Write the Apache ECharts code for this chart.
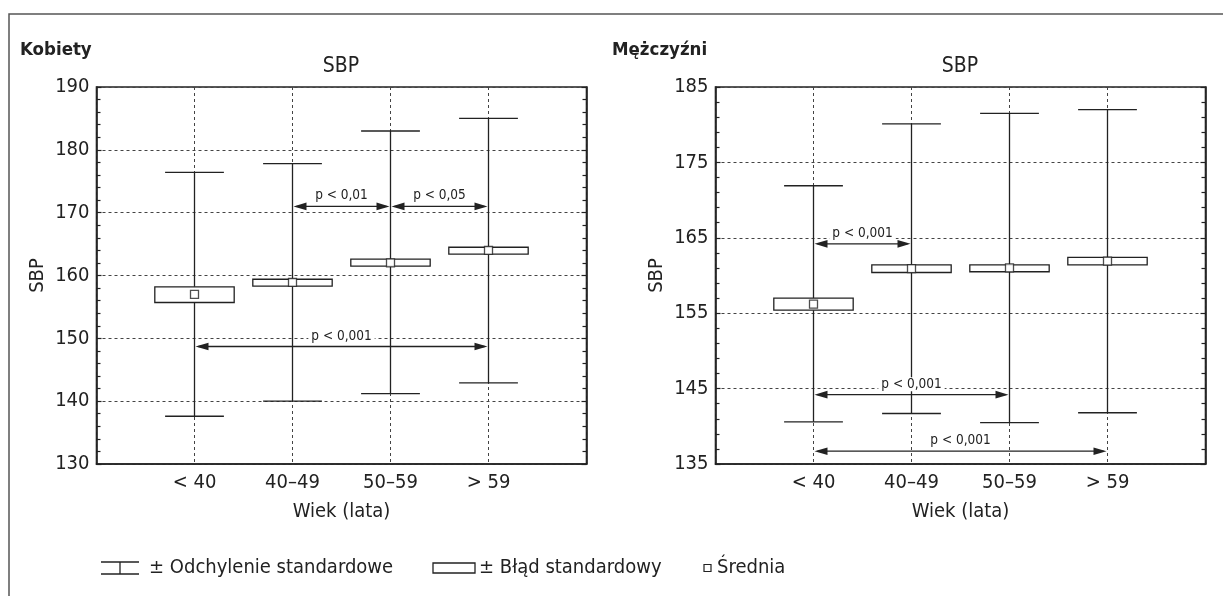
<!DOCTYPE html>
<html>
<head>
<meta charset="utf-8">
<script src="https://cdn.jsdelivr.net/npm/echarts@6/dist/echarts.min.js"></script>
<style>
    html, body { margin: 0; padding: 0; background: #fff; }
    #chart { width: 1223px; height: 596px; }
</style>
</head>
<body>
<div id="chart"></div>
<script>
// age groups, plotted at x = 1..4
var categories = ['< 40', '40–49', '50–59', '> 59'];

// Kobiety
var womenMean   = [157.0, 158.9, 162.0, 164.0];
var womenSeLow  = [155.7, 158.3, 161.5, 163.4];
var womenSeHigh = [158.2, 159.4, 162.6, 164.5];
var womenSdLow  = [137.6, 140.0, 141.2, 142.9];
var womenSdHigh = [176.4, 177.8, 183.0, 185.0];
// [from group, to group, SBP level, label]
var womenTests = [
    [1, 2, 171.0, 'p < 0,01'],
    [2, 3, 171.0, 'p < 0,05'],
    [0, 3, 148.7, 'p < 0,001']
];

// Mężczyźni
var menMean   = [156.2, 160.9, 161.0, 161.9];
var menSeLow  = [155.4, 160.4, 160.5, 161.4];
var menSeHigh = [157.0, 161.4, 161.4, 162.4];
var menSdLow  = [140.6, 141.7, 140.5, 141.8];
var menSdHigh = [171.9, 180.1, 181.5, 182.0];
var menTests = [
    [0, 1, 164.2, 'p < 0,001'],
    [0, 2, 144.2, 'p < 0,001'],
    [0, 3, 136.7, 'p < 0,001']
];

var FONT = '"Liberation Sans Narrow", "DejaVu Sans Condensed", "Noto Sans", sans-serif';
var INK = '#222';

function zip3(a, b) {
    return categories.map(function (c, i) { return [i + 1, a[i], b[i]]; });
}

function renderSd(params, api) {
    var x = api.value(0);
    var top = api.coord([x, api.value(2)]);
    var bot = api.coord([x, api.value(1)]);
    var half = api.size([0.3, 0])[0];
    var style = { stroke: INK, lineWidth: 1.3 };
    return {
        type: 'group',
        children: [
            { type: 'line', shape: { x1: top[0], y1: top[1], x2: bot[0], y2: bot[1] }, style: style },
            { type: 'line', shape: { x1: top[0] - half, y1: top[1], x2: top[0] + half, y2: top[1] }, style: style },
            { type: 'line', shape: { x1: bot[0] - half, y1: bot[1], x2: bot[0] + half, y2: bot[1] }, style: style }
        ]
    };
}

function renderSe(params, api) {
    var x = api.value(0);
    var p1 = api.coord([x, api.value(2)]);
    var p2 = api.coord([x, api.value(1)]);
    var half = api.size([0.405, 0])[0];
    return {
        type: 'rect',
        shape: { x: p1[0] - half, y: p1[1], width: half * 2, height: p2[1] - p1[1] },
        style: { fill: '#fff', stroke: INK, lineWidth: 1.3 }
    };
}

function testRenderer(tests) {
    return function (params, api) {
        var a = api.coord([api.value(0), api.value(2)]);
        var b = api.coord([api.value(1), api.value(2)]);
        var y = a[1], hl = 13, hw = 3.8;
        return {
            type: 'group',
            children: [
                { type: 'line', shape: { x1: a[0] + 4, y1: y, x2: b[0] - 4, y2: y }, style: { stroke: INK, lineWidth: 1.3 } },
                { type: 'polygon', shape: { points: [[a[0] + 1, y], [a[0] + 1 + hl, y - hw], [a[0] + 1 + hl, y + hw]] }, style: { fill: INK } },
                { type: 'polygon', shape: { points: [[b[0] - 1, y], [b[0] - 1 - hl, y - hw], [b[0] - 1 - hl, y + hw]] }, style: { fill: INK } },
                {
                    type: 'text',
                    x: (a[0] + b[0]) / 2,
                    y: y - 10.5,
                    style: {
                        text: tests[params.dataIndex][3],
                        fill: INK,
                        fontSize: 13.5,
                        fontFamily: FONT,
                        align: 'center',
                        verticalAlign: 'middle',
                        backgroundColor: '#fff',
                        padding: [0, 3]
                    }
                }
            ]
        };
    };
}

function xAxisFor(gi) {
    return {
        gridIndex: gi,
        type: 'value',
        min: 0,
        max: 5,
        interval: 1,
        axisLine: { show: true, lineStyle: { color: INK, width: 1.6 } },
        axisTick: { show: false },
        axisLabel: {
            formatter: function (v) { return categories[v - 1] || ''; },
            fontSize: 20,
            fontFamily: FONT,
            color: INK,
            margin: 9
        },
        splitLine: { show: true, lineStyle: { color: '#444', type: [3, 3], width: 1 } },
        name: 'Wiek (lata)',
        nameLocation: 'middle',
        nameGap: 38,
        nameTextStyle: { fontSize: 20, fontFamily: FONT, color: INK }
    };
}

function yAxesFor(gi, min, max) {
    var ticks = {
        axisLine: { show: true, lineStyle: { color: INK, width: 1.6 } },
        axisTick: { show: true, inside: true, length: 5, lineStyle: { color: INK, width: 1.2 } },
        minorTick: { show: true, splitNumber: 5, length: 4, lineStyle: { color: INK, width: 1.2 } }
    };
    return [
        Object.assign({
            gridIndex: gi, type: 'value', min: min, max: max, interval: 10, position: 'left',
            axisLabel: { fontSize: 20, fontFamily: FONT, color: INK, margin: 7 },
            splitLine: { show: true, lineStyle: { color: '#444', type: [3, 3], width: 1 } },
            name: 'SBP',
            nameLocation: 'middle',
            nameGap: 49,
            nameTextStyle: { fontSize: 20, fontFamily: FONT, color: INK }
        }, ticks),
        Object.assign({
            gridIndex: gi, type: 'value', min: min, max: max, interval: 10, position: 'right',
            axisLabel: { show: false },
            splitLine: { show: false }
        }, ticks)
    ];
}

function seriesFor(gi, mean, seLow, seHigh, sdLow, sdHigh, tests) {
    var xi = gi, yi = gi * 2;
    return [
        { type: 'custom', xAxisIndex: xi, yAxisIndex: yi, z: 2, renderItem: renderSd,
          encode: { x: 0, y: [1, 2] }, data: zip3(sdLow, sdHigh) },
        { type: 'custom', xAxisIndex: xi, yAxisIndex: yi, z: 3, renderItem: renderSe,
          encode: { x: 0, y: [1, 2] }, data: zip3(seLow, seHigh) },
        { type: 'scatter', xAxisIndex: xi, yAxisIndex: yi, z: 4, symbol: 'rect', symbolSize: 8,
          itemStyle: { color: '#fff', borderColor: INK, borderWidth: 1.3 },
          data: mean.map(function (m, i) { return [i + 1, m]; }) },
        { type: 'custom', xAxisIndex: xi, yAxisIndex: yi, z: 5, renderItem: testRenderer(tests),
          encode: { x: [0, 1], y: 2 },
          data: tests.map(function (t) { return [t[0] + 1, t[1] + 1, t[2]]; }) }
    ];
}

var chart = echarts.init(document.getElementById('chart'));
var ya = yAxesFor(0, 130, 190).concat(yAxesFor(1, 135, 185));
var headStyle = { fontSize: 18.5, fontWeight: 'bold', color: INK, fontFamily: FONT };
var sbpStyle = { fontSize: 21, fontWeight: 'normal', color: INK, fontFamily: FONT };
var legendText = { fill: INK, fontSize: 20, fontFamily: FONT, verticalAlign: 'middle' };

chart.setOption({
    backgroundColor: '#fff',
    animation: false,
    textStyle: { fontFamily: FONT },
    title: [
        { text: 'Kobiety', left: 20, top: 41, padding: 0, textStyle: headStyle },
        { text: 'Mężczyźni', left: 612, top: 41, padding: 0, textStyle: headStyle },
        { text: 'SBP', left: 341, top: 56, padding: 0, textAlign: 'center', textStyle: sbpStyle },
        { text: 'SBP', left: 960, top: 56, padding: 0, textAlign: 'center', textStyle: sbpStyle }
    ],
    grid: [
        { left: 96.5, top: 87, width: 490, height: 377, show: true, borderColor: INK, borderWidth: 1.6 },
        { left: 715.5, top: 87, width: 490, height: 377, show: true, borderColor: INK, borderWidth: 1.6 }
    ],
    xAxis: [xAxisFor(0), xAxisFor(1)],
    yAxis: ya,
    series: seriesFor(0, womenMean, womenSeLow, womenSeHigh, womenSdLow, womenSdHigh, womenTests)
        .concat(seriesFor(1, menMean, menSeLow, menSeHigh, menSdLow, menSdHigh, menTests)),
    graphic: [
        // figure frame
        { type: 'polyline', shape: { points: [[9, 596], [9, 14], [1223, 14]] }, style: { stroke: '#555', lineWidth: 1.5, fill: null } },
        // legend
        { type: 'group', children: [
            { type: 'line', shape: { x1: 101, y1: 562, x2: 139, y2: 562 }, style: { stroke: INK, lineWidth: 1.3 } },
            { type: 'line', shape: { x1: 120, y1: 562, x2: 120, y2: 574 }, style: { stroke: INK, lineWidth: 1.3 } },
            { type: 'line', shape: { x1: 101, y1: 574, x2: 139, y2: 574 }, style: { stroke: INK, lineWidth: 1.3 } }
        ] },
        { type: 'text', x: 149, y: 568, style: Object.assign({ text: '± Odchylenie standardowe' }, legendText) },
        { type: 'rect', shape: { x: 433, y: 563, width: 42, height: 10 }, style: { fill: '#fff', stroke: INK, lineWidth: 1.3 } },
        { type: 'text', x: 479, y: 568, style: Object.assign({ text: '± Błąd standardowy' }, legendText) },
        { type: 'rect', shape: { x: 704, y: 564.5, width: 7, height: 7 }, style: { fill: '#fff', stroke: INK, lineWidth: 1.2 } },
        { type: 'text', x: 717, y: 568, style: Object.assign({ text: 'Średnia' }, legendText) }
    ]
});
</script>
</body>
</html>
